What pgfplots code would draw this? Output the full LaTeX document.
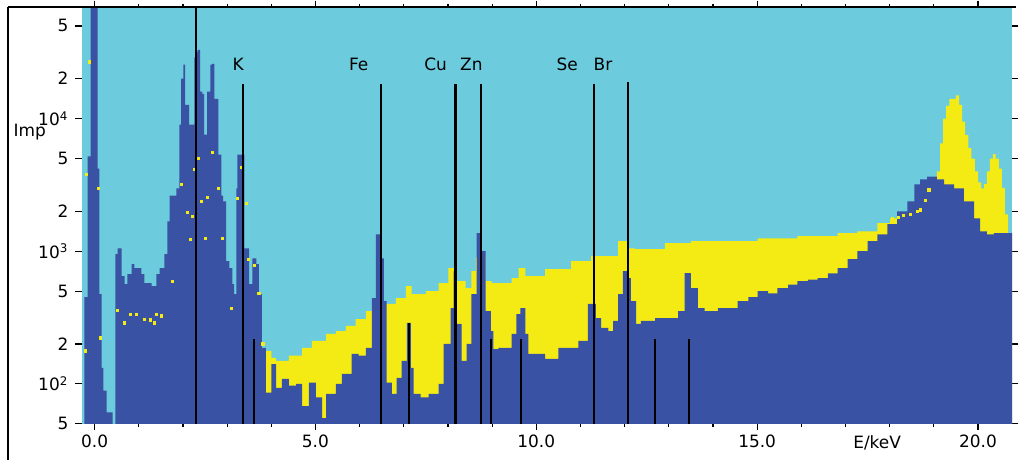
\documentclass[border=0pt]{standalone}
\usepackage{fontspec}
\setmainfont{DejaVu Sans}
\usepackage{pgfplots}
\pgfplotsset{compat=1.18}
\usepackage{pgfplotstable}

\definecolor{bgcyan}{HTML}{6CCBDC}
\definecolor{specblue}{HTML}{3A52A3}
\definecolor{specyellow}{HTML}{F5EB14}

% sample spectrum (dark blue), E/keV vs impulses
\pgfplotstableread{
E imp
-0.30 1
-0.23 450
-0.16 5200
-0.09 200000
0.07 4200
0.11 475
0.16 132
0.20 89
0.27 61
0.41 1
0.47 950
0.52 1050
0.61 650
0.68 565
0.74 672
0.84 799
0.90 745
1.06 672
1.13 575
1.29 546
1.40 672
1.47 745
1.58 950
1.65 1680
1.70 2620
1.85 2980
1.92 9000
1.96 20000
2.01 25500
2.05 12700
2.14 9000
2.26 29000
2.30 31900
2.33 33000
2.39 16000
2.44 15300
2.48 7580
2.55 16000
2.62 25500
2.66 25900
2.71 14100
2.80 5360
2.87 2620
2.91 2380
2.98 841
3.05 745
3.12 565
3.16 475
3.21 2980
3.23 5360
3.39 1050
3.50 565
3.57 885
3.66 799
3.72 475
3.79 187
3.88 86
4.00 141
4.11 93
4.24 109
4.40 97
4.56 100
4.70 68
4.85 102
5.01 79
5.15 55
5.24 84
5.46 100
5.60 119
5.82 168
5.98 163
6.14 187
6.28 443
6.37 1340
6.48 885
6.55 421
6.61 102
6.73 84
6.84 111
6.95 149
7.07 288
7.16 132
7.22 84
7.38 79
7.56 84
7.79 100
7.90 200
8.06 373
8.13 708
8.19 283
8.31 149
8.42 200
8.53 475
8.65 1370
8.74 1000
8.85 354
8.97 250
9.03 183
9.14 187
9.44 238
9.55 336
9.64 373
9.75 238
9.82 168
10.20 154
10.50 187
10.95 211
11.17 400
11.35 313
11.47 264
11.63 250
11.74 298
11.85 475
11.96 708
12.08 627
12.14 421
12.26 283
12.37 298
12.69 313
13.21 354
13.36 684
13.50 527
13.66 373
13.81 354
14.11 373
14.56 421
14.80 450
15.01 500
15.25 480
15.46 527
15.70 560
15.91 595
16.15 610
16.37 627
16.60 680
16.82 745
17.05 870
17.27 1000
17.50 1190
17.72 1340
17.95 1600
18.17 2000
18.40 2380
18.56 3190
18.69 3480
18.85 3660
19.07 3480
19.23 3190
19.46 2980
19.68 2380
19.91 1770
20.05 1410
20.20 1340
20.36 1370
20.80 1370
20.80 1
}\bluespec

% reference spectrum (yellow), part above the sample
\pgfplotstableread{
E imp
3.80 1
3.85 177
4.00 157
4.11 149
4.40 163
4.70 187
4.92 211
5.24 238
5.46 250
5.69 273
5.91 308
6.14 354
6.28 390
6.61 400
6.82 443
7.05 546
7.18 475
7.50 500
7.79 575
8.01 745
8.19 595
8.40 527
8.53 708
8.63 900
8.85 595
8.99 575
9.44 627
9.60 745
9.75 649
10.20 733
10.79 841
11.24 917
11.85 1190
12.08 1050
12.24 1035
12.91 1150
13.50 1190
14.56 1190
15.01 1250
15.91 1300
16.82 1370
17.27 1410
17.72 1630
18.01 1770
18.17 1800
18.50 1850
18.80 2100
18.96 2700
19.07 4000
19.14 6500
19.21 10000
19.28 12500
19.35 14100
19.50 15000
19.57 12700
19.64 9500
19.71 7500
19.78 6000
19.85 5000
19.93 4000
20.00 3300
20.07 2980
20.14 3200
20.20 4000
20.27 5000
20.34 5400
20.40 5000
20.47 4200
20.54 3000
20.61 1900
20.68 1370
20.80 1370
20.80 1
}\yellowspec

% reference spectrum where it lies below the sample (single points)
\pgfplotstableread{
E imp
-0.11 26800
-0.18 3790
0.09 2980
0.14 222
-0.20 177
0.52 360
0.68 288
0.81 336
0.95 336
1.13 308
1.26 303
1.35 288
1.40 336
1.51 325
1.76 595
1.96 3190
2.10 1970
2.17 1230
2.21 1830
2.26 4120
2.35 5000
2.42 2380
2.51 1250
2.55 2550
2.66 5550
2.80 2980
2.89 1250
3.09 373
3.23 2500
3.32 4280
3.43 2300
3.48 870
3.61 785
3.72 483
3.81 200
18.06 1750
18.19 1800
18.31 1850
18.47 1900
18.62 2000
18.69 2050
18.80 2400
18.89 2900
}\yellowdots

% element line markers
\pgfplotstableread{
E top
2.30 1000000
3.36 18300
3.61 218
6.48 18300
7.11 288
8.17 18300
8.74 18300
8.98 218
9.66 218
11.31 18300
12.08 19000
12.69 218
13.45 218
}\elines

\begin{document}
\begin{tikzpicture}
\begin{axis}[
  width=466.5pt, height=209pt, scale only axis,
  xmin=-0.29, xmax=20.77,
  ymode=log, ymin=50, ymax=69500,
  axis background/.style={fill=bgcyan},
  axis line style={draw=none},
  tick align=outside,
  tick style={black, line width=0.6pt},
  major tick length=3.2pt, minor tick length=1.6pt,
  xtick={0,5,10,15,20},
  xticklabels={0.0,5.0,10.0,15.0,20.0},
  minor xtick={1,2,3,4,6,7,8,9,11,12,13,14,16,17,18,19},
  ytick={50,100,200,500,1000,2000,5000,10000,20000,50000},
  yticklabels={5,10\textsuperscript{2},2,5,10\textsuperscript{3},2,5,10\textsuperscript{4},2,5},
  yminorticks=false,
  ticklabel style={font=\fontsize{8.5}{10}\selectfont},
  xticklabel style={yshift=1pt},
  clip mode=individual,
]
\addplot[const plot mark left, fill=specyellow, draw=none] table[x=E,y=imp] {\yellowspec} \closedcycle;
\addplot[const plot mark left, fill=specblue, draw=none] table[x=E,y=imp] {\bluespec} \closedcycle;
\addplot[only marks, mark=square*, mark size=0.55pt, color=specyellow] table[x=E,y=imp] {\yellowdots};
\addplot[ycomb, black, line width=1.1pt, no marks] table[x=E,y=top] {\elines};

\node[font=\fontsize{8.5}{10}\selectfont] at (axis cs:3.25,25500) {K};
\node[font=\fontsize{8.5}{10}\selectfont] at (axis cs:5.98,25500) {Fe};
\node[font=\fontsize{8.5}{10}\selectfont] at (axis cs:7.72,25500) {Cu};
\node[font=\fontsize{8.5}{10}\selectfont] at (axis cs:8.53,25500) {Zn};
\node[font=\fontsize{8.5}{10}\selectfont] at (axis cs:10.70,25500) {Se};
\node[font=\fontsize{8.5}{10}\selectfont] at (axis cs:11.51,25500) {Br};
\node[font=\fontsize{8.5}{10}\selectfont] at (axis description cs:-0.056,0.70) {Imp};
\node[font=\fontsize{8.5}{10}\selectfont] at (axis description cs:0.855,-0.045) {E/keV};

\draw[black, line width=0.8pt] (axis description cs:-0.079,1) -- (axis description cs:1.0043,1);
\draw[black, line width=0.8pt] (axis description cs:-0.079,1) -- (axis description cs:-0.079,-0.0861);
\path (axis description cs:-0.0879,1.012) rectangle (axis description cs:1.0043,-0.0861);
\end{axis}
\end{tikzpicture}
\end{document}
